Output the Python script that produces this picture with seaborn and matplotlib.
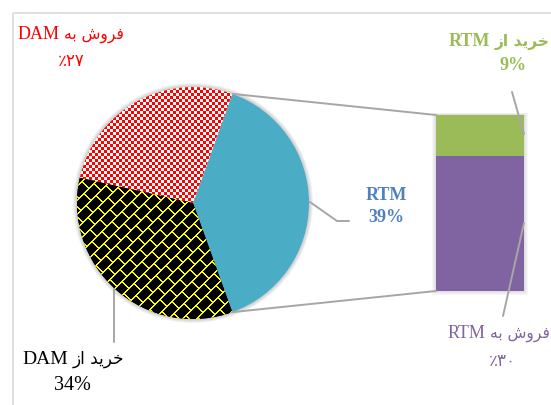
import re
import numpy as np
import pandas as pd
import matplotlib
matplotlib.use("Agg")
import matplotlib.pyplot as plt
from matplotlib.patches import ConnectionPatch, Rectangle, Circle
import seaborn as sns

# ---------------- data ----------------
pie_labels = ["RTM", "فروش به DAM", "خرید از DAM"]
pie_values = [39, 27, 34]
pie_pct_text = ["39%", "٪۲۷", "34%"]
bar_labels = ["خرید از RTM", "فروش به RTM"]
bar_values = [9, 30]
bar_pct_text = ["9%", "٪۳۰"]

# ---------------- helpers: simple Persian shaping for display ----------------
FORMS = {
    "ا": (0xFE8D, 0xFE8E, None, None),
    "ب": (0xFE8F, 0xFE90, 0xFE91, 0xFE92),
    "خ": (0xFEA5, 0xFEA6, 0xFEA7, 0xFEA8),
    "د": (0xFEA9, 0xFEAA, None, None),
    "ر": (0xFEAD, 0xFEAE, None, None),
    "ز": (0xFEAF, 0xFEB0, None, None),
    "ش": (0xFEB5, 0xFEB6, 0xFEB7, 0xFEB8),
    "ف": (0xFED1, 0xFED2, 0xFED3, 0xFED4),
    "ه": (0xFEE9, 0xFEEA, 0xFEEB, 0xFEEC),
    "و": (0xFEED, 0xFEEE, None, None),
    "ی": (0xFBFC, 0xFBFD, 0xFBFE, 0xFBFF),
}


def shape_word(w):
    out = []
    for i, ch in enumerate(w):
        f = FORMS.get(ch)
        if f is None:
            out.append(ch)
            continue
        prev = w[i - 1] if i > 0 else None
        nxt = w[i + 1] if i + 1 < len(w) else None
        jp = prev in FORMS and FORMS[prev][2] is not None
        jn = nxt in FORMS and f[2] is not None
        if jp and jn:
            c = f[3]
        elif jp:
            c = f[1]
        elif jn:
            c = f[2]
        else:
            c = f[0]
        out.append(chr(c))
    return "".join(out)


def rtl(s):
    tokens = re.findall(r"[\u0621-\u064A\u06CC]+|[A-Za-z0-9%]+|\s+|.", s)
    vis = []
    for t in reversed(tokens):
        if re.match(r"[\u0621-\u064A\u06CC]", t):
            vis.append(shape_word(t)[::-1])
        else:
            vis.append(t)
    return "".join(vis)


# ---------------- figure ----------------
sns.set_theme(style="white")
plt.rcParams["font.family"] = ["Liberation Serif", "DejaVu Sans"]

W, H = 551, 405
fig = plt.figure(figsize=(W / 100, H / 100), dpi=100)
fig.patch.set_facecolor("white")

BLUE = "#4BACC6"
GREEN = "#9BBB59"
PURPLE = "#8064A2"
GRAY = "#A6A6A6"

# ---- pie ----
cx, cy, R = 193, 203, 116
ax_pie = fig.add_axes([(cx - R) / W, (H - cy - R) / H, 2 * R / W, 2 * R / H])
total = sum(pie_values)
start = -0.5 * pie_values[0] / total * 360
for k in range(1, 6):
    ax_pie.add_patch(Circle((0, 0), 1 + k * 0.007, facecolor="#000000", alpha=0.04,
                            edgecolor="none", zorder=0, clip_on=False))
wedges, _ = ax_pie.pie(pie_values, startangle=start, counterclock=True, radius=1,
                       colors=[BLUE, "white", "black"], frame=True,
                       wedgeprops=dict(linewidth=0))

N = 2 * R
yy, xx = np.mgrid[0:N, 0:N]
checker = ((xx // 3 + yy // 3) % 2) == 0
red_img = np.ones((N, N, 3))
red_img[checker] = [1, 0, 0]

P, Q = 14, 20
s = xx + yy
d = xx - yy
row = s // P
line = (s % P) < 2
joint = ((d + (row % 2) * (Q // 2)) % Q) < 2
brick = line | joint
blk_img = np.zeros((N, N, 3))
blk_img[brick] = [1, 1, 0]

for img, wdg in ((red_img, wedges[1]), (blk_img, wedges[2])):
    im = ax_pie.imshow(img, extent=(-1, 1, -1, 1), interpolation="nearest", zorder=2)
    im.set_clip_path(wdg)
ax_pie.set_xlim(-1, 1)
ax_pie.set_ylim(-1, 1)
ax_pie.axis("off")

# ---- bar of pie ----
bx0, bx1, by0, by1 = 436, 524, 115, 291
ax_bar = fig.add_axes([bx0 / W, (H - by1) / H, (bx1 - bx0) / W, (by1 - by0) / H])
bw, bh = bx1 - bx0, by1 - by0
for k in range(1, 5):
    ax_bar.add_patch(Rectangle((-k / bw, -k / bh), 1 + 2 * k / bw, 1 + 1.6 * k / bh,
                               transform=ax_bar.transAxes, facecolor="#000000",
                               alpha=0.03, edgecolor="none", clip_on=False, zorder=0))
cum = np.cumsum(bar_values[::-1])  # purple at bottom, green on top
sns.barplot(x=["s"], y=[cum[1]], color=GREEN, saturation=1, width=1, ax=ax_bar,
            linewidth=0, zorder=2)
sns.barplot(x=["s"], y=[cum[0]], color=PURPLE, saturation=1, width=1, ax=ax_bar,
            linewidth=0, zorder=3)
ax_bar.set_xlim(-0.5, 0.5)
ax_bar.set_ylim(0, cum[1])
ax_bar.axis("off")

# ---- connector lines between pie and bar ----
a_top = np.deg2rad(start + pie_values[0] / total * 360)
a_bot = np.deg2rad(start)
for ang, yb in ((a_top, cum[1]), (a_bot, 0)):
    con = ConnectionPatch(xyA=(np.cos(ang), np.sin(ang)), coordsA=ax_pie.transData,
                          xyB=(-0.5, yb), coordsB=ax_bar.transData,
                          color=GRAY, lw=1.4)
    fig.add_artist(con)

# ---- overlay for labels, leaders, border ----
ov = fig.add_axes([0, 0, 1, 1])
ov.set_xlim(0, W)
ov.set_ylim(H, 0)
ov.axis("off")
ov.set_zorder(5)

ov.add_patch(Rectangle((12.5, 12.5), 700, 600, fill=False, edgecolor="#D9D9D9",
                       lw=1.2, clip_on=False))

# leader lines
ov.plot([310, 337, 349], [202, 221, 221], color=GRAY, lw=1.4)
ov.plot([114, 114], [289, 342], color=GRAY, lw=1.4)
ov.plot([512, 524], [92, 134], color=GRAY, lw=1.4)
ov.plot([524, 503], [223, 316], color=GRAY, lw=1.4)

renderer = fig.canvas.get_renderer()
AR_RE = re.compile(r"[\u0600-\u06FF\uFB50-\uFEFF]")


def mixed_text(x, y, s, color, size, weight="normal", ha="center", ar_scale=0.86):
    """Draw a mixed Persian/Latin label: Latin runs in serif, Persian in DejaVu Sans."""
    vis = rtl(s)
    runs = [r.strip() for r in re.findall(r"[A-Za-z0-9%]+|[^A-Za-z0-9%]+", vis)]
    runs = [r for r in runs if r]
    gap = size * 100 / 72 * 0.25
    arts, widths = [], []
    for r in runs:
        ar = bool(AR_RE.search(r))
        t = ov.text(0, y, r, color=color, fontweight=weight, ha="left", va="baseline",
                    fontsize=size * (ar_scale if ar else 1),
                    family="DejaVu Sans" if ar else "Liberation Serif")
        arts.append(t)
        widths.append(t.get_window_extent(renderer).width)
    tot = sum(widths) + gap * (len(runs) - 1)
    if ha == "center":
        x0 = x - tot / 2
    elif ha == "right":
        x0 = x - tot
    else:
        x0 = x
    for t, w in zip(arts, widths):
        t.set_x(x0)
        x0 += w + gap


# labels
mixed_text(71, 39, pie_labels[1], "#FF0000", 13)
ov.text(71, 62, pie_pct_text[1], color="#FF0000", fontsize=12, ha="center",
        va="center", family=["Liberation Serif", "DejaVu Sans"])

mixed_text(73, 364, pie_labels[2], "black", 14)
ov.text(72, 386, pie_pct_text[2], color="black", fontsize=14.5, ha="center",
        va="center", family="Liberation Serif")

ov.text(386, 195, pie_labels[0], color="#4F81BD", fontsize=13, fontweight="bold",
        ha="center", va="center", family="Liberation Serif")
ov.text(386, 217, pie_pct_text[0], color="#4F81BD", fontsize=13, fontweight="bold",
        ha="center", va="center", family="Liberation Serif")

mixed_text(550, 46, bar_labels[0], GREEN, 13, weight="bold", ha="right")
ov.text(513, 65, bar_pct_text[0], color=GREEN, fontsize=13, fontweight="bold",
        ha="center", va="center", family="Liberation Serif")

mixed_text(550, 338, bar_labels[1], PURPLE, 13, ha="right")
ov.text(502, 362, bar_pct_text[1], color=PURPLE, fontsize=12, ha="center",
        va="center", family=["Liberation Serif", "DejaVu Sans"])

fig.savefig("out.png", dpi=100)
